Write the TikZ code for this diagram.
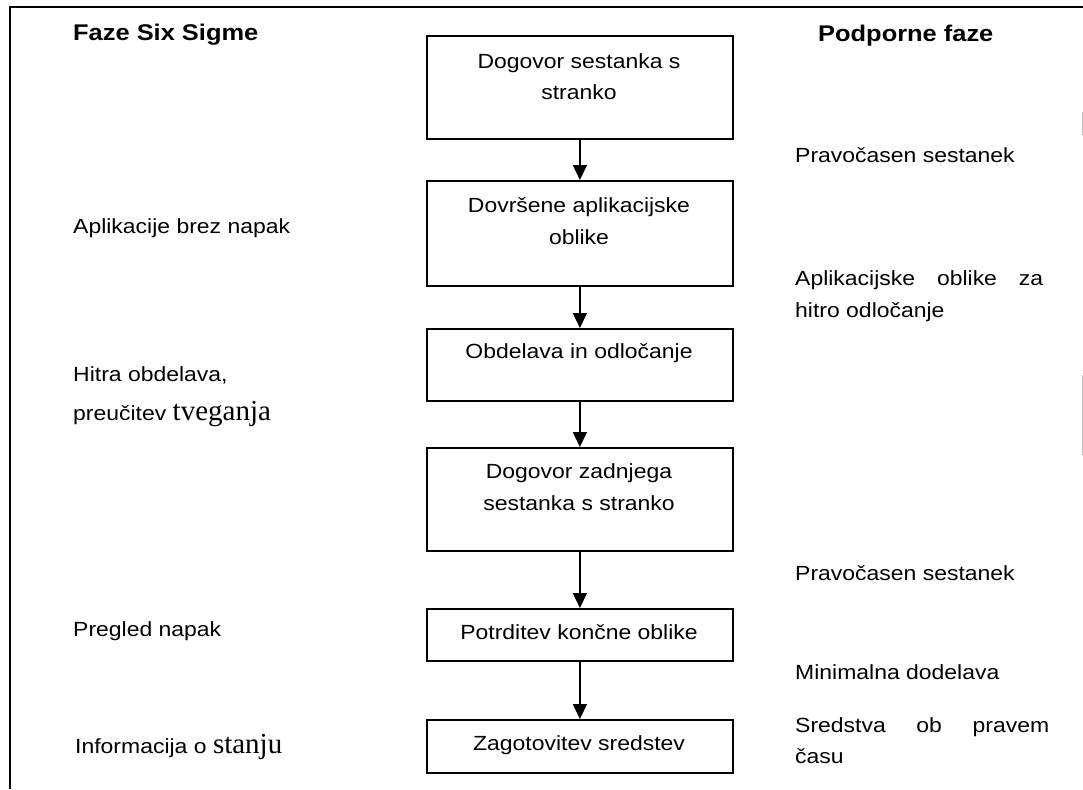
\documentclass[tikz,border=0pt]{standalone}
\usepackage{fontspec}
\setmainfont[FakeStretch=1.12]{Liberation Sans}
\newfontfamily\serifx{Liberation Serif}
\usetikzlibrary{arrows.meta}
\begin{document}
\begin{tikzpicture}[x=1pt,y=-1pt,
  box/.style={draw, line width=1.8pt, inner sep=0pt, minimum width=306pt, anchor=north west},
  txt/.style={inner sep=0pt, font=\fontsize{20.5}{32}\selectfont},
  ctxt/.style={txt, anchor=base, align=center},
  ltxt/.style={txt, anchor=base west, align=left},
  head/.style={inner sep=0pt, anchor=base west, font=\fontsize{22.7}{28}\selectfont\bfseries},
  arr/.style={line width=1.6pt, -{Triangle[length=15pt,width=14pt]}},
  frame/.style={line width=1.5pt},
  faint/.style={line width=1pt, black!25}]
\useasboundingbox (0,0) rectangle (1083,789);
% frame
\coordinate (ftr) at (1083,7);
\coordinate (ftl) at (10,7);
\coordinate (fbl) at (10,789);
\draw[frame] (ftr) -- (ftl) -- (fbl);
\coordinate (r1a) at (1082,112); \coordinate (r1b) at (1082,135);
\coordinate (r2a) at (1082,375); \coordinate (r2b) at (1082,455);
\draw[faint] (r1a) -- (r1b);
\draw[faint] (r2a) -- (r2b);
% boxes
\node[box, minimum height=103pt] (b1) at (426,35) {};
\node[box, minimum height=105pt] (b2) at (426,180) {};
\node[box, minimum height=72pt] (b3) at (426,328) {};
\node[box, minimum height=103pt] (b4) at (426,447) {};
\node[box, minimum height=52pt] (b5) at (426,608) {};
\node[box, minimum height=53pt] (b6) at (426,719) {};
% box texts (base anchor = baseline of the last line)
\node[ctxt] (t1) at (579,100) {Dogovor sestanka s\\stranko};
\node[ctxt] (t2) at (579,244) {Dovršene aplikacijske\\oblike};
\node[ctxt] (t3) at (579,358) {Obdelava in odločanje};
\node[ctxt] (t4) at (579,510) {Dogovor zadnjega\\sestanka s stranko};
\node[ctxt] (t5) at (579,639) {Potrditev končne oblike};
\node[ctxt] (t6) at (579,750) {Zagotovitev sredstev};
% arrows
\draw[arr] (b1.south) -- (b2.north);
\draw[arr] (b2.south) -- (b3.north);
\draw[arr] (b3.south) -- (b4.north);
\draw[arr] (b4.south) -- (b5.north);
\draw[arr] (b5.south) -- (b6.north);
% headings
\node[head] (hl) at (73,41) {Faze Six Sigme};
\node[head] (hr) at (818,42) {Podporne faze};
% left column
\node[ltxt] (l1) at (73,233) {Aplikacije brez napak};
\node[ltxt] (l2) at (73,381) {Hitra obdelava,};
\node[ltxt] (l3) at (73,420) {preučitev {\serifx\fontsize{29}{32}\selectfont tveganja}};
\node[ltxt] (l4) at (73,636) {Pregled napak};
\node[ltxt] (l5) at (75,753) {Informacija o {\serifx\fontsize{29}{32}\selectfont stanju}};
% right column
\node[ltxt] (r1) at (795,162) {Pravočasen sestanek};
\node[ltxt] (r2) at (795,285) {\makebox[248pt][s]{Aplikacijske\hfill oblike\hfill za}};
\node[ltxt] (r3) at (795,317) {hitro odločanje};
\node[ltxt] (r4) at (795,580) {Pravočasen sestanek};
\node[ltxt] (r5) at (795,679) {Minimalna dodelava};
\node[ltxt] (r6) at (795,732) {\makebox[254pt][s]{Sredstva\hfill ob\hfill pravem}};
\node[ltxt] (r7) at (795,763) {času};
\end{tikzpicture}
\end{document}
